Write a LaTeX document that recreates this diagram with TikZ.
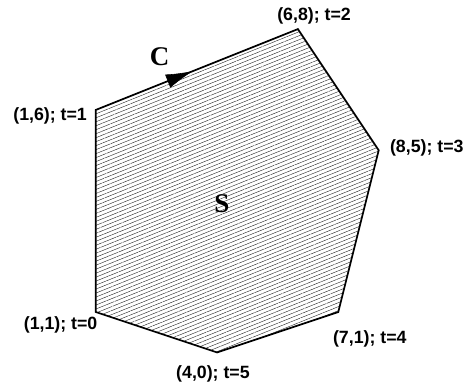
\documentclass[tikz,border=0pt]{standalone}
\usepackage{fontspec}
\setmainfont{Liberation Sans}
\newfontfamily\timesbf{Liberation Serif}
\usetikzlibrary{arrows.meta,patterns.meta,decorations.markings}

\begin{document}
\begin{tikzpicture}[>=Latex,
  lbl/.style={font=\bfseries\fontsize{12.5}{14}\selectfont, inner sep=1pt},
  big/.style={font=\timesbf\bfseries\fontsize{19}{21}\selectfont}]
  \useasboundingbox (-1.37,-0.87) rectangle (10.16,8.72);
  \coordinate (P0) at (1,1);
  \coordinate (P1) at (1,6);
  \coordinate (P2) at (6,8);
  \coordinate (P3) at (8,5);
  \coordinate (P4) at (7,1);
  \coordinate (P5) at (4,0);
  \fill[pattern={Lines[angle=22,distance=2.6pt,line width=0.3pt]}, pattern color=black!85]
    (P0) -- (P1) -- (P2) -- (P3) -- (P4) -- (P5) -- cycle;
  \draw[line width=1.2pt] (P0) -- (P1) -- (P2) -- (P3) -- (P4) -- (P5) -- cycle;
  \path[decorate, decoration={markings,
    mark=at position 0.48 with {\arrow{Latex[length=19pt,width=10pt]}}}] (P1) -- (P2);
  \node[lbl] (L0) at (0.13,0.69) {(1,1); t=0};
  \node[lbl] (L1) at (-0.13,5.84) {(1,6); t=1};
  \node[lbl] (L2) at (6.40,8.32) {(6,8); t=2};
  \node[lbl] (L3) at (9.19,5.07) {(8,5); t=3};
  \node[lbl] (L4) at (7.78,0.34) {(7,1); t=4};
  \node[lbl] (L5) at (3.90,-0.52) {(4,0); t=5};
  \node[big] (C) at (2.58,7.31) {C};
  \node[big] (S) at (4.12,3.69) {S};
\end{tikzpicture}
\end{document}
